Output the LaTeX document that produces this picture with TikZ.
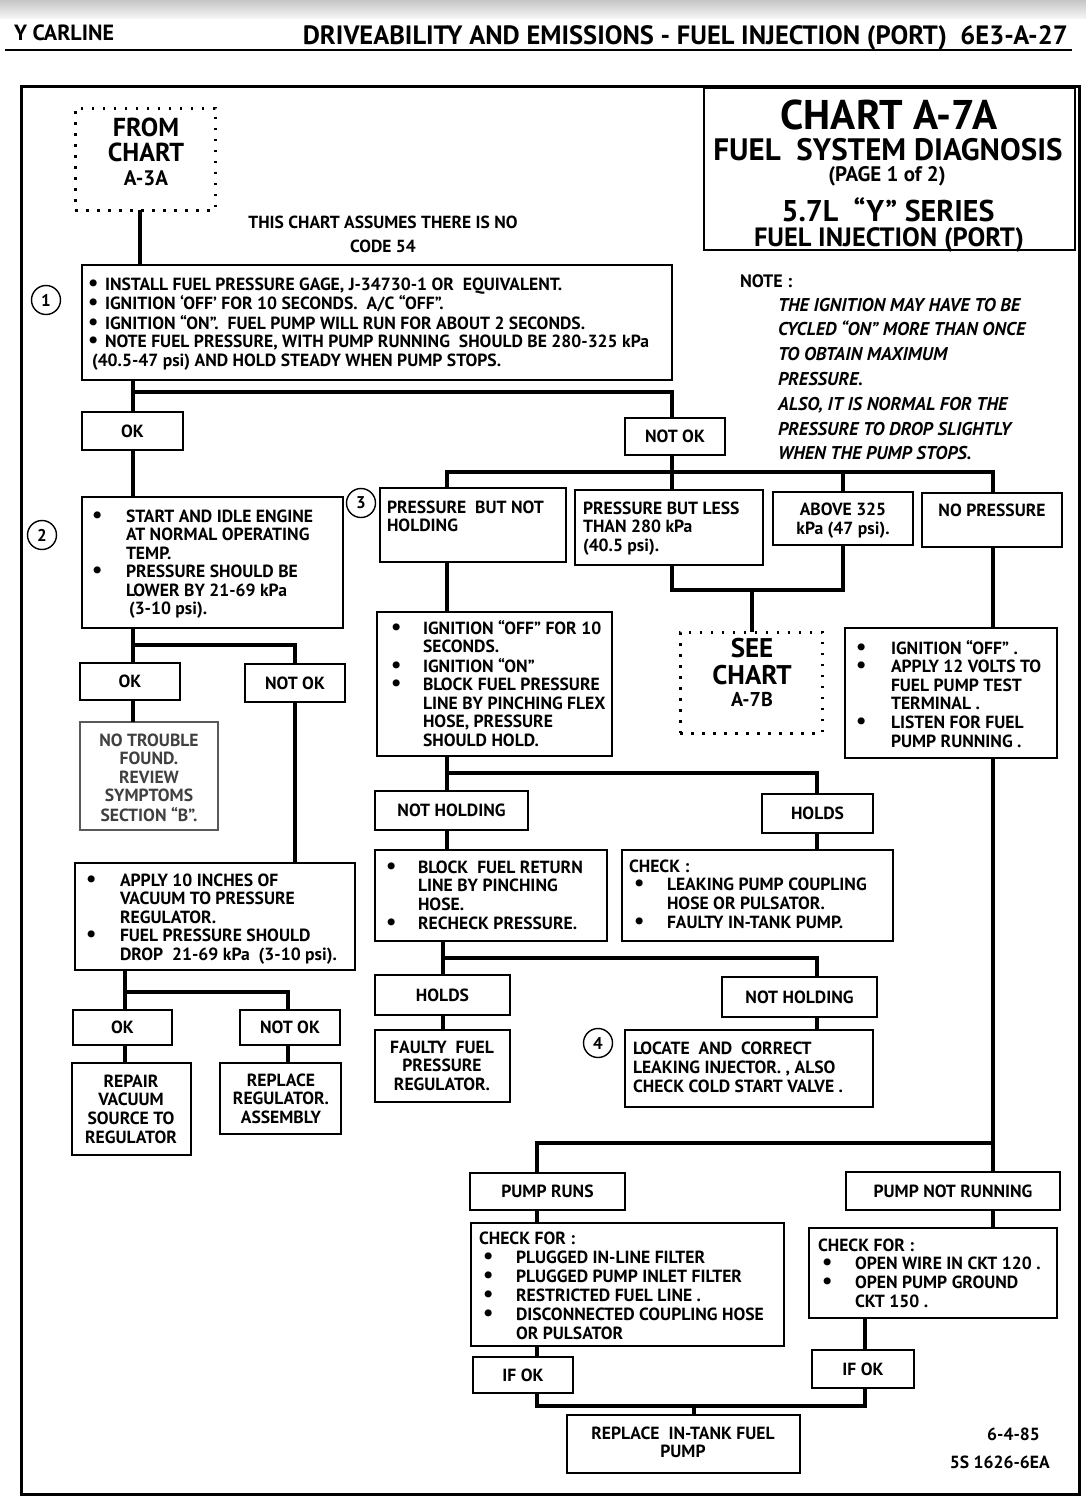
\documentclass[tikz,border=0pt]{standalone}
\usepackage{fontspec}
\usepackage{graphicx}
\setmainfont{PT Sans}
\usetikzlibrary{calc}
\newcommand\fs[2]{\fontsize{#1}{#2}\selectfont\bfseries}
\newcommand\bul{\raisebox{0pt}[6pt][0pt]{\scalebox{1.3}{\textbullet}}}
\newcommand\bx[7][]{\node[bx,#1,anchor=north west,minimum width={(#5-#3)*1pt},minimum height={(#6-#4)*1pt}] (#2) at (#3,#4) {#7};}
\begin{document}
\begin{tikzpicture}[x=1pt,y=-1pt,line join=miter,
 bx/.style={draw,line width=1.6pt,fill=white,inner sep=0pt,outer sep=0pt,font=\fs{17.6}{18.5}},
 dotbox/.style={draw,line width=3pt,dash pattern=on 2.5pt off 8.5pt,inner sep=0pt,outer sep=0pt},
 conn/.style={line width=4.6pt},
 tx/.style={anchor=base west,inner sep=0pt,outer sep=0pt,font=\fs{17.6}{18.5}},
 ctx/.style={anchor=base,inner sep=0pt,outer sep=0pt,font=\fs{17.6}{18.5}},
 num/.style={draw,circle,line width=1.4pt,minimum size=29pt,inner sep=0pt,fill=white,font=\fs{17}{17}}]
\useasboundingbox (0,0) rectangle (1086,1510);
\fill[white] (0,0) rectangle (1086,1510);
\shade[top color=gray!45,bottom color=gray!8] (0,0) rectangle (1086,18);
% header
\node[tx,font=\fs{22}{22}] (hl) at (14,40) {Y CARLINE};
\node[anchor=base east,inner sep=0pt,font=\fs{26.5}{26}] (hr) at (1068,44) {DRIVEABILITY AND EMISSIONS - FUEL INJECTION (PORT)\ \ 6E3-A-27};
\draw[line width=2pt] (5,50) -- (1072,50);
% frame
\node[draw,line width=3pt,anchor=north west,minimum width=1058pt,minimum height=1408pt,inner sep=0pt] (frame) at (20,85) {};
% title
\bx[line width=2pt]{title}{704}{88}{1075}{250}{}
\node[ctx,font=\fs{41.5}{40}] (tA) at (889,129) {CHART A-7A};
\node[ctx,font=\fs{31}{28}] (tB) at (888,160) {FUEL\ \ SYSTEM DIAGNOSIS};
\node[ctx,font=\fs{21}{19}] (tC) at (887,181) {(PAGE 1 of 2)};
\node[ctx,font=\fs{30}{30}] (tD) at (888,221) {5.7L\ \ “Y” SERIES};
\node[ctx,font=\fs{26.5}{26}] (tE) at (889,246) {FUEL INJECTION (PORT)};
% from chart
\node[dotbox,anchor=north west,minimum width=140pt,minimum height=102pt] (from) at (75,108) {};
\node[ctx,font=\fs{26}{24}] (tfrom) at (146,136) {\begin{tabular}[t]{@{}c@{}}FROM\\CHART\\{\fs{21}{24}A-3A}\end{tabular}};
\node[ctx,font=\fs{17.5}{24}] (tas) at (383,228) {\begin{tabular}[t]{@{}c@{}}THIS CHART ASSUMES THERE IS NO\\CODE 54\end{tabular}};
% note
\node[tx,font=\fs{18}{24.8}] (tnote) at (740,287) {NOTE :};
\node[tx,font={\fs{18.5}{24.8}\itshape}] (tnote2) at (778,311) {\begin{tabular}[t]{@{}l@{}}THE IGNITION MAY HAVE TO BE\\CYCLED “ON” MORE THAN ONCE\\TO OBTAIN MAXIMUM\\PRESSURE.\\ALSO, IT IS NORMAL FOR THE\\PRESSURE TO DROP SLIGHTLY\\WHEN THE PUMP STOPS.\end{tabular}};
% boxes
\bx{b1}{82}{265}{672}{380}{}
\bx{ok1}{82}{412}{183}{450}{OK}
\bx{nok1}{625}{418}{725}{455}{NOT OK}
\bx{b2}{82}{497}{343}{628}{}
\bx{ok2}{80}{663}{180}{700}{OK}
\bx{nok2}{245}{664}{345}{702}{NOT OK}
\bx[draw=black!65]{ntf}{80}{722}{218}{830}{}
\bx{vac}{75}{863}{355}{970}{}
\bx{ok3}{73}{1010}{172}{1045}{OK}
\bx{nok3}{240}{1010}{340}{1045}{NOT OK}
\bx{rep}{72}{1063}{191}{1155}{}
\bx{rreg}{220}{1063}{341}{1134}{}
\bx{pnh}{380}{488}{566}{562}{}
\bx{pbl}{575}{490}{763}{565}{}
\bx{a325}{773}{492}{913}{545}{}
\bx{nop}{922}{493}{1062}{547}{}
\node[dotbox,anchor=north west,minimum width=142pt,minimum height=101pt] (see) at (680,632) {};
\bx{ign}{377}{612}{612}{756}{}
\bx{ap12}{845}{628}{1057}{758}{}
\bx{nh1}{375}{791}{528}{830}{NOT HOLDING}
\bx{hd1}{762}{794}{873}{833}{HOLDS}
\bx{blk}{375}{850}{607}{941}{}
\bx{chk}{622}{850}{893}{941}{}
\bx{hd2}{375}{975}{510}{1015}{HOLDS}
\bx{nh2}{722}{977}{877}{1017}{NOT HOLDING}
\bx{fty}{375}{1030}{510}{1102}{}
\bx{loc}{625}{1030}{873}{1107}{}
\bx{pr}{470}{1173}{625}{1210}{PUMP RUNS}
\bx{pnr}{846}{1172}{1060}{1210}{PUMP NOT RUNNING}
\bx{cf1}{471}{1223}{784}{1346}{}
\bx{cf2}{809}{1228}{1057}{1318}{}
\bx{if1}{473}{1357}{573}{1393}{IF OK}
\bx{if2}{812}{1350}{914}{1388}{IF OK}
\bx{rtp}{567}{1415}{800}{1473}{}
% texts
\node[tx] (t1) at (88,290) {\begin{tabular}[t]{@{}p{17pt}@{}l@{}}\bul&INSTALL FUEL PRESSURE GAGE, J-34730-1 OR\ \ EQUIVALENT.\\\bul&IGNITION ‘OFF’ FOR 10 SECONDS.\ \ A/C “OFF”.\\\bul&IGNITION “ON”.\ \ FUEL PUMP WILL RUN FOR ABOUT 2 SECONDS.\\\bul&NOTE FUEL PRESSURE, WITH PUMP RUNNING\ \ SHOULD BE 280-325 kPa\\\multicolumn{2}{@{}l@{}}{\hspace*{4pt}(40.5-47 psi) AND HOLD STEADY WHEN PUMP STOPS.}\end{tabular}};
\node[tx] (t2) at (92,522) {\begin{tabular}[t]{@{}p{34pt}@{}l@{}}\bul&START AND IDLE ENGINE\\&AT NORMAL OPERATING\\&TEMP.\\\bul&PRESSURE SHOULD BE\\&LOWER BY 21-69 kPa\\&\hspace*{3pt}(3-10 psi).\end{tabular}};
\node[ctx,text=black!75] (t3) at (149,746) {\begin{tabular}[t]{@{}c@{}}NO TROUBLE\\FOUND.\\REVIEW\\SYMPTOMS\\SECTION “B”.\end{tabular}};
\node[tx] (t4) at (86,886) {\begin{tabular}[t]{@{}p{34pt}@{}l@{}}\bul&APPLY 10 INCHES OF\\&VACUUM TO PRESSURE\\&REGULATOR.\\\bul&FUEL PRESSURE SHOULD\\&DROP\ \ 21-69 kPa\ \ (3-10 psi).\end{tabular}};
\node[ctx,font=\fs{17.6}{18.7}] (t5) at (131,1087) {\begin{tabular}[t]{@{}c@{}}REPAIR\\VACUUM\\SOURCE TO\\REGULATOR\end{tabular}};
\node[ctx,font=\fs{17.6}{18.7}] (t6) at (281,1086) {\begin{tabular}[t]{@{}c@{}}REPLACE\\REGULATOR.\\ASSEMBLY\end{tabular}};
\node[tx,font=\fs{17.6}{18}] (t7) at (387,513) {\begin{tabular}[t]{@{}l@{}}PRESSURE\ \ BUT NOT\\HOLDING\end{tabular}};
\node[tx] (t8) at (583,514) {\begin{tabular}[t]{@{}l@{}}PRESSURE BUT LESS\\THAN 280 kPa\\(40.5 psi).\end{tabular}};
\node[ctx,font=\fs{17.6}{19}] (t9) at (843,515) {\begin{tabular}[t]{@{}c@{}}ABOVE 325\\kPa (47 psi).\end{tabular}};
\node[ctx] (t10) at (992,516) {NO PRESSURE};
\node[ctx,font=\fs{27}{27}] (t11) at (752,657) {\begin{tabular}[t]{@{}c@{}}SEE\\CHART\\[-5pt]{\fs{20}{27}A-7B}\end{tabular}};
\node[tx] (t12) at (391,634) {\begin{tabular}[t]{@{}p{32pt}@{}l@{}}\bul&IGNITION “OFF” FOR 10\\&SECONDS.\\\bul&IGNITION “ON”\\\bul&BLOCK FUEL PRESSURE\\&LINE BY PINCHING FLEX\\&HOSE, PRESSURE\\&SHOULD HOLD.\end{tabular}};
\node[tx,font=\fs{17.6}{18.6}] (t13) at (856,654) {\begin{tabular}[t]{@{}p{35pt}@{}l@{}}\bul&IGNITION “OFF” .\\\bul&APPLY 12 VOLTS TO\\&FUEL PUMP TEST\\&TERMINAL .\\\bul&LISTEN FOR FUEL\\&PUMP RUNNING .\end{tabular}};
\node[tx,font=\fs{17.6}{18.7}] (t14) at (386,873) {\begin{tabular}[t]{@{}p{32pt}@{}l@{}}\bul&BLOCK\ \ FUEL RETURN\\&LINE BY PINCHING\\&HOSE.\\\bul&RECHECK PRESSURE.\end{tabular}};
\node[tx,font=\fs{17.6}{18.7}] (t15) at (629,872) {\begin{tabular}[t]{@{}p{38pt}@{}l@{}}\multicolumn{2}{@{}l@{}}{CHECK :}\\\hspace*{5pt}\bul&LEAKING PUMP COUPLING\\&HOSE OR PULSATOR.\\\hspace*{5pt}\bul&FAULTY IN-TANK PUMP.\end{tabular}};
\node[ctx,font=\fs{17.6}{18.5}] (t16) at (442,1053) {\begin{tabular}[t]{@{}c@{}}FAULTY\ \ FUEL\\PRESSURE\\REGULATOR.\end{tabular}};
\node[tx,font=\fs{17.6}{19}] (t17) at (633,1054) {\begin{tabular}[t]{@{}l@{}}LOCATE\ \ AND\ \ CORRECT\\LEAKING INJECTOR. , ALSO\\CHECK COLD START VALVE .\end{tabular}};
\node[tx,font=\fs{17.6}{19}] (t18) at (479,1244) {\begin{tabular}[t]{@{}p{37pt}@{}l@{}}\multicolumn{2}{@{}l@{}}{CHECK FOR :}\\\hspace*{4pt}\bul&PLUGGED IN-LINE FILTER\\\hspace*{4pt}\bul&PLUGGED PUMP INLET FILTER\\\hspace*{4pt}\bul&RESTRICTED FUEL LINE .\\\hspace*{4pt}\bul&DISCONNECTED COUPLING HOSE\\&OR PULSATOR\end{tabular}};
\node[tx,font=\fs{17.6}{18.7}] (t19) at (818,1251) {\begin{tabular}[t]{@{}p{37pt}@{}l@{}}\multicolumn{2}{@{}l@{}}{CHECK FOR :}\\\hspace*{4pt}\bul&OPEN WIRE IN CKT 120 .\\\hspace*{4pt}\bul&OPEN PUMP GROUND\\&CKT 150 .\end{tabular}};
\node[ctx,font=\fs{17.6}{18}] (t20) at (683,1439) {\begin{tabular}[t]{@{}c@{}}REPLACE\ \ IN-TANK FUEL\\PUMP\end{tabular}};
\node[anchor=base east,inner sep=0pt,font=\fs{17.6}{18}] (t21) at (1040,1440) {6-4-85};
\node[anchor=base east,inner sep=0pt,font=\fs{17.6}{18}] (t22) at (1050,1468) {5S 1626-6EA};
% column / row coordinates
\coordinate (X140) at (140,0);
\coordinate (X133) at (133,0);
\coordinate (X296) at (295,0);
\coordinate (X125) at (125,0);
\coordinate (X288) at (288,0);
\coordinate (X447) at (447,0);
\coordinate (X443) at (443,0);
\coordinate (X672) at (672,0);
\coordinate (X843) at (843,0);
\coordinate (X993) at (993,0);
\coordinate (X752) at (752,0);
\coordinate (X817) at (817,0);
\coordinate (X537) at (537,0);
\coordinate (X865) at (865,0);
\coordinate (X694) at (694,0);
\coordinate (Y392) at (0,392);
\coordinate (Y472) at (0,472);
\coordinate (Y590) at (0,590);
\coordinate (Y645) at (0,645);
\coordinate (Y992) at (0,992);
\coordinate (Y773) at (0,773);
\coordinate (Y958) at (0,958);
\coordinate (Y1143) at (0,1143);
\coordinate (Y1406) at (0,1406);
% connectors
\draw[conn] (X140 |- from.south) -- (X140 |- b1.north);
\draw[conn] (X133 |- b1.south) -- (X133 |- ok1.north);
\draw[conn] (X133 |- Y392) -| (X672 |- nok1.north);
\draw[conn] (X672 |- nok1.south) -- (X672 |- pbl.north);
\draw[conn] (X447 |- pnh.north) |- (X993 |- Y472) -- (X993 |- nop.north);
\draw[conn] (X843 |- Y472) -- (X843 |- a325.north);
\draw[conn] (X133 |- ok1.south) -- (X133 |- b2.north);
\draw[conn] (X133 |- b2.south) -- (X133 |- ok2.north);
\draw[conn] (X133 |- Y645) -| (X296 |- nok2.north);
\draw[conn] (X133 |- ok2.south) -- (X133 |- ntf.north);
\draw[conn] (X296 |- nok2.south) -- (X296 |- vac.north);
\draw[conn] (X125 |- vac.south) -- (X125 |- ok3.north);
\draw[conn] (X125 |- Y992) -| (X288 |- nok3.north);
\draw[conn] (X125 |- ok3.south) -- (X125 |- rep.north);
\draw[conn] (X288 |- nok3.south) -- (X288 |- rreg.north);
\draw[conn] (X447 |- pnh.south) -- (X447 |- ign.north);
\draw[conn] (X672 |- pbl.south) |- (X843 |- Y590) -- (X843 |- a325.south);
\draw[conn] (X752 |- Y590) -- (X752 |- see.north);
\draw[conn] (X993 |- nop.south) -- (X993 |- ap12.north);
\draw[conn] (X447 |- ign.south) -- (X447 |- nh1.north);
\draw[conn] (X447 |- Y773) -| (X817 |- hd1.north);
\draw[conn] (X447 |- nh1.south) -- (X447 |- blk.north);
\draw[conn] (X817 |- hd1.south) -- (X817 |- chk.north);
\draw[conn] (X443 |- blk.south) -- (X443 |- hd2.north);
\draw[conn] (X443 |- Y958) -| (X817 |- nh2.north);
\draw[conn] (X443 |- hd2.south) -- (X443 |- fty.north);
\draw[conn] (X817 |- nh2.south) -- (X817 |- loc.north);
\draw[conn] (X993 |- ap12.south) -- (X993 |- pnr.north);
\draw[conn] (X993 |- Y1143) -| (X537 |- pr.north);
\draw[conn] (X537 |- pr.south) -- (X537 |- cf1.north);
\draw[conn] (X993 |- pnr.south) -- (X993 |- cf2.north);
\draw[conn] (X537 |- cf1.south) -- (X537 |- if1.north);
\draw[conn] (X865 |- cf2.south) -- (X865 |- if2.north);
\draw[conn] (X537 |- if1.south) |- (X865 |- Y1406) -- (X865 |- if2.south);
\draw[conn] (X694 |- Y1406) -- (X694 |- rtp.north);
% step numbers
\node[num] (n1) at (46,300) {1};
\node[num] (n2) at (42,535) {2};
\node[num] (n3) at (361,503) {3};
\node[num] (n4) at (598,1043) {4};
\end{tikzpicture}
\end{document}
